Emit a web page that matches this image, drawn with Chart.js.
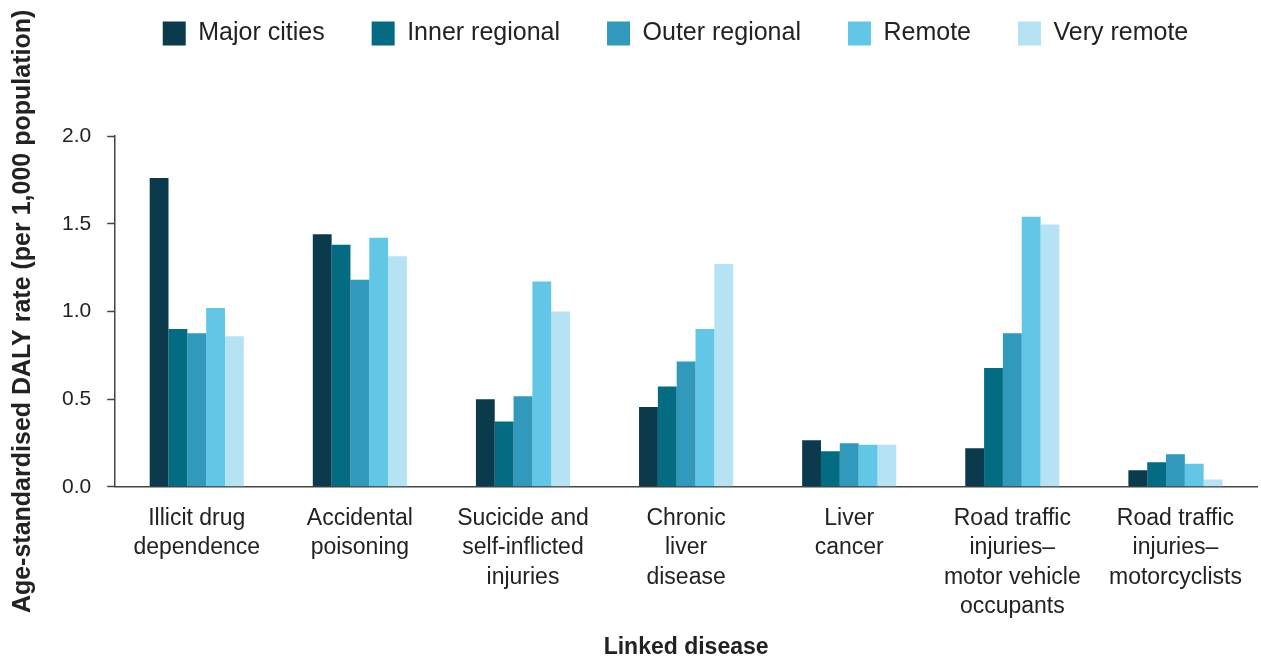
<!DOCTYPE html>
<html>
<head>
<meta charset="utf-8">
<script src="https://cdn.jsdelivr.net/npm/chart.js@4/dist/chart.umd.min.js"></script>
<style>
  html, body { margin: 0; padding: 0; background: #fff; }
  #wrap { width: 1261px; height: 657px; }
</style>
</head>
<body>
<div id="wrap"><canvas id="chartDaly" width="1261" height="657"></canvas></div>
<script>
    const categories = [
        ['Illicit drug', 'dependence'],
        ['Accidental', 'poisoning'],
        ['Sucicide and', 'self-inflicted', 'injuries'],
        ['Chronic', 'liver', 'disease'],
        ['Liver', 'cancer'],
        ['Road traffic', 'injuries\u2013', 'motor vehicle', 'occupants'],
        ['Road traffic', 'injuries\u2013', 'motorcyclists']
    ];

    const majorCities   = [1.76, 1.44, 0.50, 0.455, 0.265, 0.22, 0.095];
    const innerRegional = [0.90, 1.38, 0.373, 0.572, 0.203, 0.678, 0.14];
    const outerRegional = [0.875, 1.18, 0.517, 0.714, 0.248, 0.875, 0.186];
    const remote        = [1.02, 1.42, 1.17, 0.90, 0.24, 1.54, 0.131];
    const veryRemote    = [0.858, 1.315, 1.00, 1.27, 0.24, 1.495, 0.042];

    const yTicks = [0, 0.5, 1.0, 1.5, 2.0];

    const font = "'Liberation Sans', Arial, sans-serif";
    const textColor = '#222';
    const axisColor = '#444';

    const series = [
        { label: 'Major cities', data: majorCities, color: '#0a3a4c' },
        { label: 'Inner regional', data: innerRegional, color: '#036b82' },
        { label: 'Outer regional', data: outerRegional, color: '#3199bb' },
        { label: 'Remote', data: remote, color: '#62c6e7' },
        { label: 'Very remote', data: veryRemote, color: '#b5e3f4' }
    ];

    // push the plot down below the legend, and nudge the legend right
    const legendSpace = {
        id: 'legendSpace',
        beforeInit(chart) {
            const fit = chart.legend.fit;
            chart.legend.fit = function() {
                fit.bind(chart.legend)();
                this.height = 162;
            };
        },
        afterLayout(chart) {
            chart.legend.left += 43;
            chart.legend.right += 43;
        }
    };

    new Chart(document.getElementById('chartDaly'), {
        type: 'bar',
        data: {
            labels: categories,
            datasets: series.map(s => ({
                label: s.label,
                data: s.data,
                backgroundColor: s.color,
                borderWidth: 0,
                categoryPercentage: 0.577,
                barPercentage: 1.0
            }))
        },
        options: {
            responsive: false,
            animation: false,
            layout: { padding: { top: -26, left: 8, right: 4, bottom: 0 } },
            scales: {
                x: {
                    grid: { display: false, drawTicks: false },
                    border: { display: true, color: axisColor, width: 1.5 },
                    ticks: {
                        color: textColor,
                        font: { family: font, size: 23, lineHeight: 1.28 },
                        padding: 17,
                        maxRotation: 0,
                        autoSkip: false
                    },
                    title: {
                        display: true,
                        text: 'Linked disease',
                        color: textColor,
                        font: { family: font, size: 23, weight: 'bold', lineHeight: 0.8 },
                        padding: { top: 0, bottom: 0 }
                    }
                },
                y: {
                    min: 0,
                    max: 2.0,
                    afterBuildTicks(axis) {
                        axis.ticks = yTicks.map(v => ({ value: v }));
                    },
                    grid: {
                        drawOnChartArea: false,
                        drawTicks: true,
                        tickLength: 8,
                        color: axisColor,
                        tickWidth: 1.5
                    },
                    border: { display: true, color: axisColor, width: 1.5 },
                    ticks: {
                        color: textColor,
                        font: { family: font, size: 21 },
                        padding: 16,
                        callback: function(v) { return Number(v).toFixed(1); }
                    },
                    title: {
                        display: true,
                        text: 'Age-standardised DALY rate (per 1,000 population)',
                        color: textColor,
                        font: { family: font, size: 25, weight: 'bold' },
                        padding: { top: 0, bottom: 8 }
                    }
                }
            },
            plugins: {
                legend: {
                    position: 'top',
                    labels: {
                        boxWidth: 23,
                        boxHeight: 24,
                        padding: 47,
                        color: textColor,
                        font: { family: font, size: 25 }
                    }
                },
                tooltip: { enabled: false }
            }
        },
        plugins: [legendSpace]
    });
</script>
</body>
</html>
